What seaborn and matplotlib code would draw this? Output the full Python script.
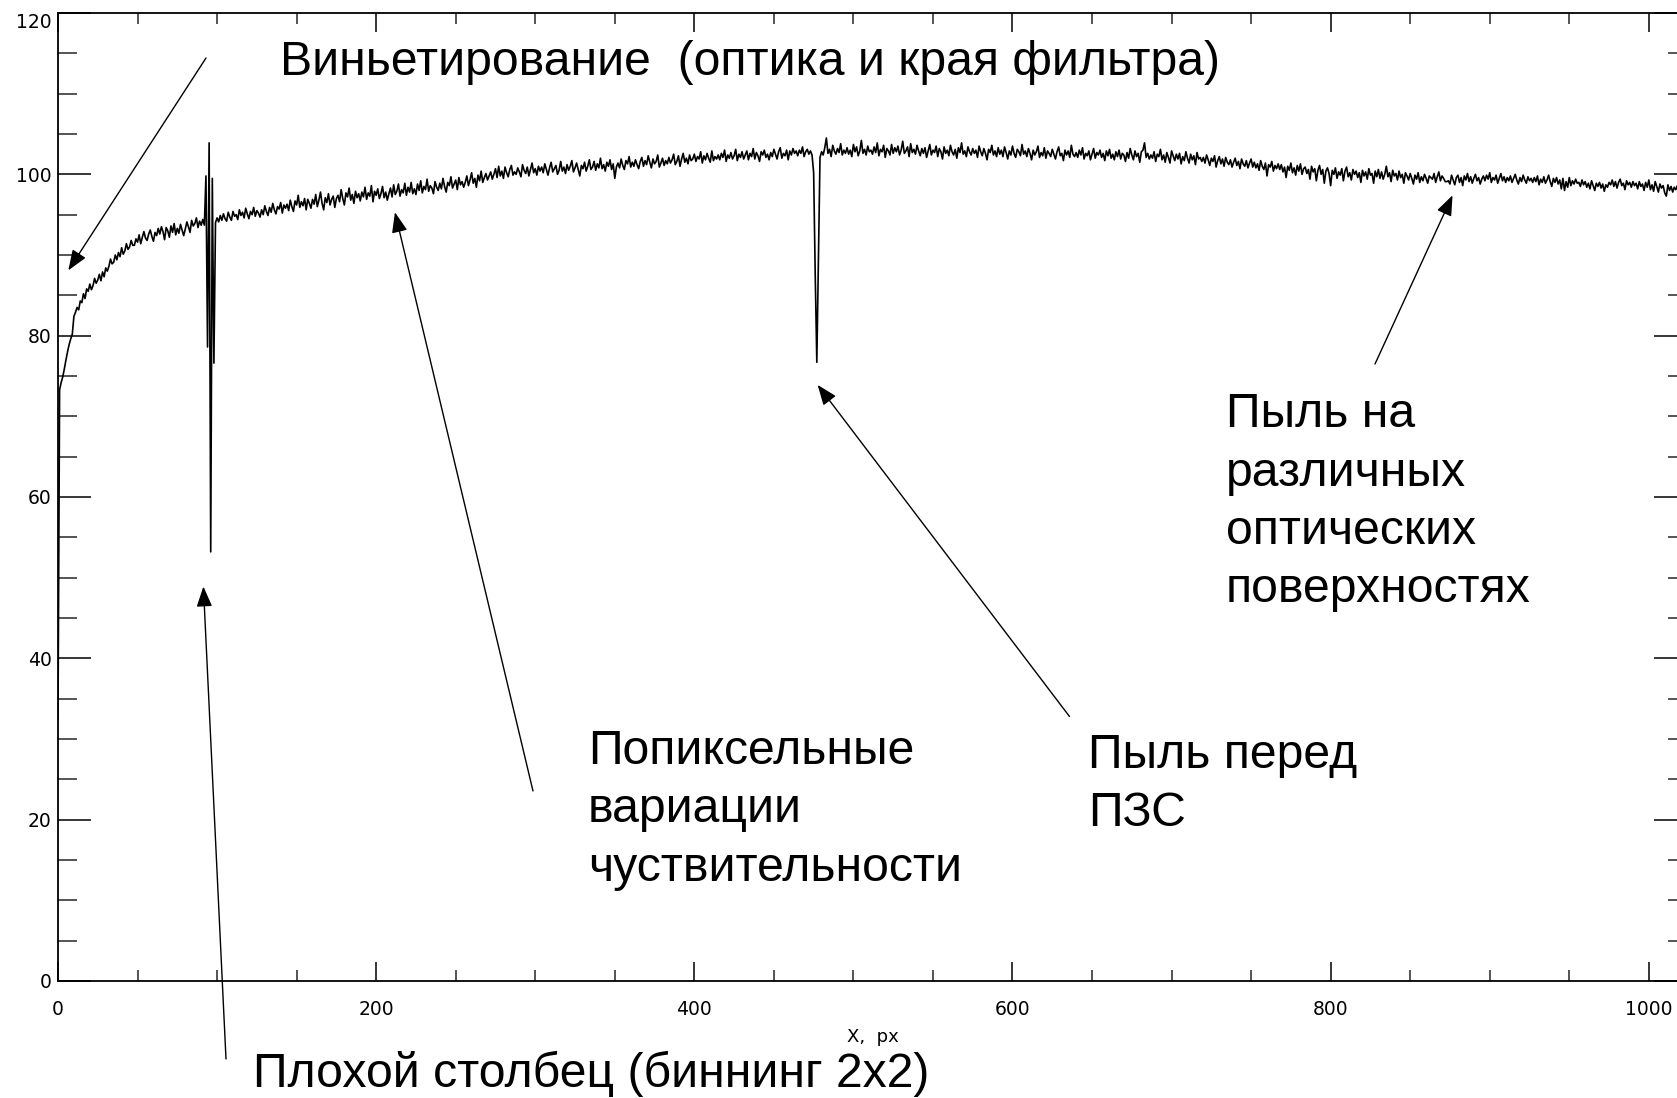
import numpy as np
import matplotlib
matplotlib.use("Agg")
import matplotlib.pyplot as plt
from matplotlib.ticker import MultipleLocator, NullFormatter
import seaborn as sns

# Flat-field cut along one CCD row: mean signal per column, 16 columns per row of the table
flat_rows = [
    [32.5, 73.3, 74.2, 74.9, 75.9, 77.0, 78.0, 78.9, 79.6, 80.2, 82.4, 82.9, 83.5, 83.2, 84.3, 84.1],
    [85.2, 84.6, 85.8, 85.5, 86.4, 85.7, 86.2, 87.1, 86.5, 86.9, 87.6, 86.8, 87.9, 87.3, 88.4, 88.0],
    [88.6, 89.5, 88.9, 89.1, 90.0, 89.4, 90.3, 89.8, 90.9, 90.1, 90.5, 91.4, 90.7, 91.0, 91.8, 91.2],
    [91.2, 92.0, 91.6, 92.5, 91.4, 92.2, 92.9, 92.1, 91.8, 92.6, 93.1, 92.3, 91.7, 92.8, 92.4, 93.3],
    [92.6, 93.5, 92.9, 91.9, 93.4, 93.0, 92.2, 93.6, 92.8, 93.9, 92.5, 93.3, 92.7, 93.8, 93.1, 92.4],
    [93.2, 94.1, 93.5, 92.8, 94.3, 93.6, 93.9, 94.6, 93.4, 94.2, 93.7, 94.4, 93.7, 99.8, 78.6, 103.9],
    [53.2, 99.5, 76.6, 94.0, 94.6, 94.1, 94.9, 94.3, 95.1, 94.5, 94.2, 95.3, 94.7, 94.3, 95.4, 94.8],
    [95.0, 94.4, 95.6, 94.9, 95.3, 94.6, 95.8, 95.1, 94.5, 95.4, 95.0, 95.9, 94.8, 95.5, 95.2, 94.7],
    [95.6, 95.0, 96.1, 95.4, 94.9, 95.9, 95.3, 96.4, 95.6, 95.1, 96.0, 95.7, 96.5, 95.2, 96.2, 95.8],
    [96.3, 95.5, 96.8, 96.0, 95.4, 96.7, 96.2, 97.4, 95.9, 96.6, 96.1, 97.0, 95.6, 96.9, 96.4, 95.8],
    [96.9, 96.3, 97.5, 96.0, 96.8, 97.8, 96.4, 95.6, 97.1, 96.5, 97.6, 96.2, 96.9, 97.3, 95.9, 97.0],
    [97.4, 96.6, 98.1, 97.0, 96.2, 97.7, 97.2, 98.3, 96.8, 97.5, 96.4, 97.9, 97.1, 97.6, 96.7, 97.8],
    [97.2, 98.4, 96.9, 97.7, 97.3, 98.6, 96.6, 97.9, 97.4, 98.2, 97.0, 97.6, 98.5, 97.1, 97.8, 96.8],
    [97.6, 98.3, 97.2, 98.7, 97.5, 97.9, 98.8, 97.3, 98.1, 97.7, 98.9, 97.4, 98.4, 97.8, 99.0, 97.6],
    [98.2, 97.5, 98.8, 98.0, 99.2, 97.7, 98.5, 98.1, 99.4, 97.9, 98.6, 98.3, 97.6, 99.1, 98.4, 98.0],
    [98.9, 98.2, 99.5, 98.5, 97.8, 99.0, 98.6, 99.7, 98.3, 98.8, 99.3, 98.1, 99.6, 98.7, 99.1, 98.4],
    [99.0, 99.8, 98.6, 99.3, 100.2, 98.9, 99.5, 98.4, 99.9, 99.2, 100.4, 99.0, 99.6, 100.1, 99.3, 99.8],
    [100.3, 99.4, 100.0, 100.7, 99.6, 101.0, 99.8, 100.4, 99.5, 100.9, 100.2, 99.7, 100.6, 101.1, 99.9, 100.3],
    [100.0, 100.8, 100.3, 99.7, 101.2, 100.5, 100.1, 100.9, 99.8, 100.6, 101.4, 100.2, 100.7, 99.9, 101.0, 100.4],
    [100.9, 100.2, 101.3, 100.6, 99.9, 100.8, 101.5, 100.3, 100.7, 101.1, 100.0, 100.5, 101.6, 100.4, 100.9, 100.1],
    [101.2, 100.5, 101.0, 101.7, 100.3, 100.8, 101.4, 100.6, 99.8, 101.1, 100.7, 101.5, 100.4, 101.0, 101.8, 100.6],
    [100.9, 101.6, 100.5, 101.3, 100.8, 102.0, 100.7, 101.2, 100.4, 101.5, 101.0, 101.8, 100.6, 101.3, 99.5, 100.9],
    [101.4, 100.8, 101.9, 101.1, 100.6, 101.7, 101.3, 102.2, 100.9, 101.5, 101.0, 101.8, 101.2, 100.7, 101.6, 102.1],
    [101.0, 101.7, 101.2, 102.3, 101.5, 100.8, 101.9, 101.3, 101.6, 102.4, 100.9, 101.4, 102.0, 101.1, 101.7, 101.3],
    [102.1, 101.4, 101.8, 102.5, 101.2, 101.6, 102.3, 101.0, 101.9, 102.6, 101.5, 102.0, 101.3, 102.4, 101.7, 101.9],
    [102.5, 101.6, 102.2, 101.9, 102.8, 101.4, 102.3, 101.8, 102.6, 102.0, 101.5, 102.9, 101.7, 102.2, 101.9, 102.4],
    [101.8, 102.6, 102.1, 103.0, 101.6, 102.4, 102.0, 102.7, 101.9, 102.3, 103.1, 101.7, 102.5, 102.1, 102.8, 101.9],
    [102.4, 102.9, 101.8, 102.6, 102.2, 103.2, 101.9, 102.7, 102.3, 101.6, 102.8, 102.4, 103.0, 102.1, 102.5, 101.8],
    [102.7, 102.2, 103.1, 102.5, 101.9, 102.8, 103.3, 102.0, 102.6, 102.3, 103.0, 101.8, 102.9, 102.4, 103.2, 102.6],
    [102.9, 102.3, 103.0, 102.6, 103.4, 102.2, 102.8, 103.1, 102.5, 102.9, 102.4, 100.2, 87.5, 76.7, 89.7, 102.1],
    [102.8, 102.4, 103.3, 104.5, 102.6, 103.1, 102.2, 103.6, 102.9, 102.5, 103.2, 102.7, 103.8, 102.4, 103.0, 102.6],
    [103.3, 102.5, 103.0, 102.2, 103.7, 102.8, 103.4, 102.3, 102.9, 104.2, 102.6, 103.1, 102.4, 103.5, 102.8, 103.0],
    [102.5, 103.4, 102.7, 103.9, 102.3, 103.1, 102.8, 103.6, 102.1, 103.2, 102.9, 102.4, 103.7, 102.6, 103.3, 102.8],
    [103.5, 102.4, 103.0, 104.1, 102.6, 102.9, 103.4, 102.2, 103.8, 102.7, 103.1, 102.5, 103.6, 102.9, 102.3, 103.2],
    [102.6, 103.3, 102.1, 102.9, 103.7, 102.4, 103.0, 102.7, 103.5, 102.2, 103.2, 102.8, 101.9, 103.4, 102.6, 103.0],
    [102.3, 103.6, 102.8, 102.4, 103.1, 102.0, 103.3, 102.7, 103.9, 102.5, 102.9, 102.2, 103.4, 102.8, 102.4, 103.2],
    [102.6, 103.0, 102.1, 103.5, 102.8, 102.3, 103.2, 102.6, 101.8, 103.1, 102.7, 103.6, 102.4, 102.9, 102.2, 103.3],
    [102.5, 103.0, 102.2, 103.4, 102.7, 101.9, 102.9, 102.4, 103.5, 102.6, 102.1, 103.1, 102.8, 102.3, 103.7, 102.5],
    [102.9, 102.2, 103.2, 102.6, 101.8, 103.0, 102.4, 102.8, 103.5, 102.1, 102.7, 102.3, 103.3, 102.0, 102.9, 102.6],
    [102.2, 103.1, 102.5, 101.9, 102.8, 103.4, 102.3, 102.6, 101.7, 103.0, 102.4, 102.9, 102.1, 103.6, 102.5, 102.2],
    [102.7, 102.1, 103.0, 102.4, 103.3, 101.9, 102.6, 102.3, 102.9, 101.8, 102.5, 103.2, 102.0, 102.7, 102.4, 103.0],
    [102.1, 102.6, 101.7, 102.9, 102.3, 103.1, 102.0, 102.5, 101.8, 102.8, 102.2, 103.0, 101.9, 102.6, 102.4, 101.6],
    [102.7, 102.0, 103.2, 102.4, 101.8, 102.9, 102.2, 102.6, 101.5, 102.8, 103.0, 103.9, 102.1, 102.6, 101.9, 102.4],
    [102.0, 102.8, 101.6, 102.5, 102.2, 103.1, 101.8, 102.4, 101.5, 102.7, 102.1, 101.4, 102.9, 102.3, 101.7, 102.5],
    [101.9, 102.6, 101.3, 102.2, 101.7, 102.8, 102.0, 101.4, 102.5, 101.8, 102.3, 101.2, 102.7, 101.9, 102.1, 101.6],
    [102.1, 101.4, 102.4, 101.8, 101.1, 102.0, 101.6, 102.3, 100.9, 101.7, 102.2, 101.3, 101.9, 101.0, 102.1, 101.5],
    [101.2, 101.8, 100.9, 101.5, 102.0, 101.1, 101.6, 100.7, 101.9, 101.3, 101.0, 101.7, 100.8, 101.4, 101.9, 100.9],
    [101.5, 100.8, 101.3, 100.5, 101.7, 101.0, 100.6, 101.4, 99.8, 101.2, 100.9, 101.6, 100.4, 101.1, 100.7, 101.3],
    [100.6, 101.2, 100.3, 100.9, 99.6, 101.0, 100.5, 101.4, 100.2, 100.8, 99.9, 101.1, 100.4, 101.3, 100.0, 100.7],
    [100.9, 100.1, 100.6, 99.4, 101.0, 100.3, 100.7, 99.2, 100.5, 101.1, 100.0, 100.6, 98.9, 100.4, 100.8, 100.1],
    [98.6, 100.5, 100.0, 100.8, 99.5, 100.3, 99.9, 100.7, 99.2, 100.4, 100.9, 99.7, 100.2, 99.3, 100.6, 100.0],
    [100.4, 99.6, 100.2, 99.0, 100.5, 99.8, 100.3, 99.4, 100.7, 99.9, 100.1, 98.9, 100.4, 99.7, 100.6, 99.5],
    [100.3, 99.4, 100.0, 101.0, 99.7, 100.2, 99.1, 100.5, 99.8, 100.1, 99.3, 100.4, 99.6, 100.0, 98.9, 100.2],
    [99.8, 99.3, 100.1, 99.5, 98.8, 99.9, 99.4, 100.2, 99.0, 99.7, 99.2, 100.0, 99.5, 98.9, 99.8, 99.6],
    [99.4, 100.1, 99.0, 99.7, 100.3, 99.2, 99.8, 99.5, 99.1, 99.1, 99.2, 98.8, 99.9, 99.3, 98.7, 99.6],
    [99.9, 99.0, 99.6, 98.6, 99.8, 99.3, 100.1, 99.1, 99.7, 98.9, 99.5, 100.0, 99.2, 99.6, 98.8, 99.4],
    [99.8, 99.2, 99.9, 99.4, 100.2, 99.0, 99.6, 99.3, 99.9, 98.9, 99.5, 100.1, 99.2, 99.7, 99.0, 99.6],
    [99.2, 99.8, 99.0, 99.5, 100.0, 99.3, 98.8, 99.6, 99.1, 99.9, 99.3, 98.9, 99.7, 99.2, 99.5, 99.0],
    [99.6, 99.1, 99.8, 98.7, 99.4, 99.0, 99.7, 98.9, 99.3, 99.9, 99.1, 98.5, 99.5, 99.0, 99.6, 98.8],
    [99.3, 98.2, 99.5, 98.0, 99.1, 98.4, 99.6, 98.6, 99.2, 98.8, 99.4, 98.9, 99.0, 98.5, 99.3, 98.7],
    [99.1, 98.4, 98.9, 98.2, 99.2, 98.6, 98.0, 98.9, 98.5, 99.0, 98.3, 98.8, 97.9, 98.7, 98.4, 99.0],
    [98.7, 99.3, 98.5, 99.1, 98.3, 99.0, 99.4, 98.6, 98.9, 98.1, 99.2, 98.7, 99.0, 98.4, 99.1, 98.6],
    [98.9, 98.2, 99.1, 98.5, 98.8, 98.0, 99.0, 98.4, 99.3, 98.1, 98.7, 97.9, 99.1, 98.5, 97.8, 98.8],
    [98.3, 98.6, 97.7, 97.3, 98.7, 98.0, 98.5, 97.8, 98.4, 98.1, 98.6, 97.9, 98.3, 98.0, 98.5, 98.1],
]
for i, row in enumerate(flat_rows):
    assert len(row) == 16, (i, len(row))

flat_counts = np.concatenate([np.asarray(r, dtype=float) for r in flat_rows])
columns = np.arange(flat_counts.size)

x_major_ticks = [0, 200, 400, 600, 800, 1000]
x_tick_labels = ["0", "200", "400", "600", "800", "1000"]
y_major_ticks = [0, 20, 40, 60, 80, 100, 120]
y_tick_labels = ["0", "20", "40", "60", "80", "100", "120"]
x_label = "X,  px"

W, H = 1677, 1098
sns.set_theme(style="ticks")
plt.rcParams["font.family"] = ["DejaVu Sans"]

fig = plt.figure(figsize=(W / 100, H / 100), dpi=100)
fig.patch.set_facecolor("white")
ax = fig.add_axes([58 / W, 117 / H, 1629 / W, 968 / H])
ax.set_facecolor("white")

sns.lineplot(x=columns, y=flat_counts, ax=ax, color="black", linewidth=1.2,
             estimator=None, sort=False)

ax.set_xlim(0, 1024)
ax.set_ylim(0, 120)
ax.set_xticks(x_major_ticks, x_tick_labels)
ax.set_yticks(y_major_ticks, y_tick_labels)
ax.xaxis.set_minor_locator(MultipleLocator(50))
ax.yaxis.set_minor_locator(MultipleLocator(5))
ax.xaxis.set_minor_formatter(NullFormatter())
ax.yaxis.set_minor_formatter(NullFormatter())

for s in ax.spines.values():
    s.set_visible(True)
    s.set_linewidth(1.3)
    s.set_color("black")

ax.tick_params(axis="y", which="major", direction="in", length=23.8, width=1.1,
               left=True, right=True, labelsize=13.5, pad=4.5, colors="black")
ax.tick_params(axis="y", which="minor", direction="in", length=13.7, width=1.1,
               left=True, right=True)
ax.tick_params(axis="x", which="major", direction="in", length=13.7, width=1.1,
               bottom=True, top=True, labelsize=13.5, pad=14, colors="black")
ax.tick_params(axis="x", which="minor", direction="in", length=7.9, width=1.1,
               bottom=True, top=True)
for lbl in ax.get_yticklabels():
    if lbl.get_text() == "120":
        lbl.set_verticalalignment("top")

ax.set_xlabel(x_label, fontsize=13, labelpad=6, color="black")
ax.set_ylabel("")

# Russian annotations with arrows pointing at the features of the profile
text_font = dict(family=["Liberation Sans", "DejaVu Sans"], fontsize=34.7, color="black")
notes = [
    (["Виньетирование  (оптика и края фильтра)"], 280, 75, 58, (206, 58), (6.5, 88.1)),
    (["Пыль на", "различных", "оптических", "поверхностях"], 1226, 427, 58.5, (1375, 364), (876.6, 97.4)),
    (["Попиксельные", "вариации", "чуствительности"], 588, 764, 58.5, (533, 791), (211.8, 95.3)),
    (["Пыль перед", "ПЗС"], 1088, 768, 58, (1069.5, 716.5), (477.5, 73.9)),
    (["Плохой столбец (биннинг 2х2)"], 253, 1087, 58, (226, 1059), (91.4, 48.9)),
]
for lines, left, base, step, tail, head in notes:
    for k, line in enumerate(lines):
        fig.text(left / W, 1 - (base + k * step) / H, line, ha="left", va="baseline", **text_font)
    ax.annotate("", xy=head, xycoords="data",
                xytext=(tail[0], H - tail[1]), textcoords="figure pixels",
                annotation_clip=False,
                arrowprops=dict(arrowstyle="-|>,head_length=0.62,head_width=0.24",
                                mutation_scale=20, color="black", lw=1.0,
                                shrinkA=0, shrinkB=0))

fig.savefig("out.png", dpi=100, facecolor="white")
